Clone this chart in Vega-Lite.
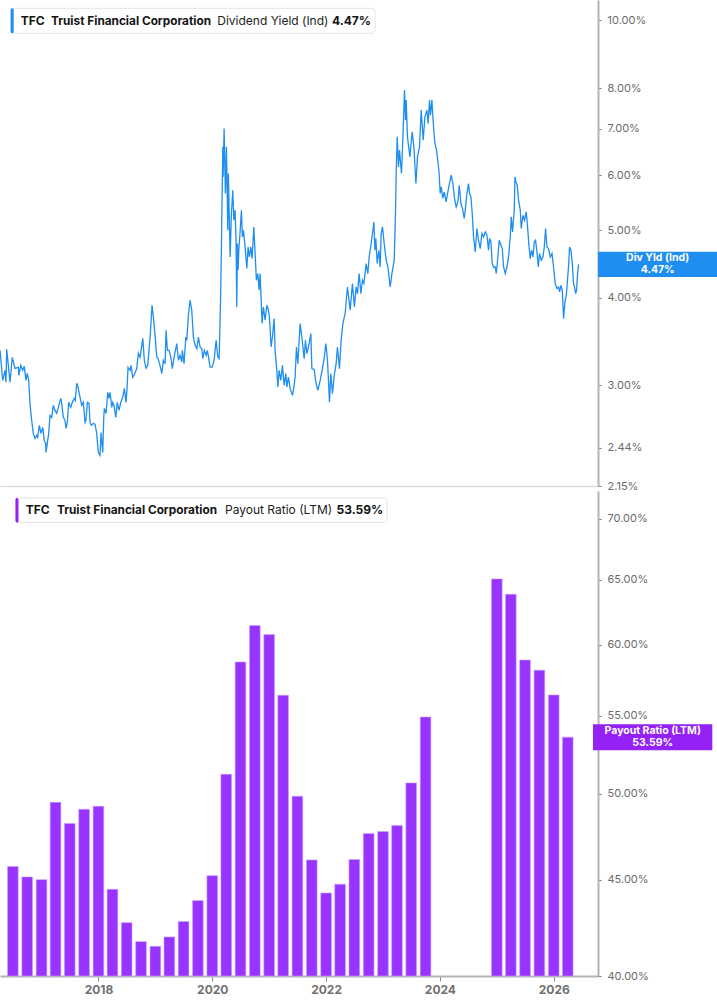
{
  "$schema": "https://vega.github.io/schema/vega-lite/v6.json",
  "padding": 0,
  "background": "white",
  "spacing": 0,
  "config": {"view": {"stroke": null}, "font": "Inter"},
  "datasets": {
    "yield": [
      {"year": 2016.358, "yield": 3.365}, {"year": 2016.405, "yield": 3.048}, {"year": 2016.444, "yield": 3.150}, {"year": 2016.461, "yield": 3.028},
      {"year": 2016.474, "yield": 3.376}, {"year": 2016.531, "yield": 3.028}, {"year": 2016.570, "yield": 3.288}, {"year": 2016.617, "yield": 3.171},
      {"year": 2016.674, "yield": 3.181}, {"year": 2016.686, "yield": 3.098}, {"year": 2016.716, "yield": 3.202}, {"year": 2016.750, "yield": 3.150},
      {"year": 2016.778, "yield": 3.192}, {"year": 2016.807, "yield": 3.048}, {"year": 2016.830, "yield": 3.119}, {"year": 2016.854, "yield": 3.048},
      {"year": 2016.876, "yield": 2.824}, {"year": 2016.899, "yield": 2.697}, {"year": 2016.933, "yield": 2.558}, {"year": 2016.963, "yield": 2.516},
      {"year": 2016.992, "yield": 2.541}, {"year": 2017.009, "yield": 2.524}, {"year": 2017.037, "yield": 2.626}, {"year": 2017.066, "yield": 2.558},
      {"year": 2017.096, "yield": 2.609}, {"year": 2017.123, "yield": 2.499}, {"year": 2017.148, "yield": 2.475}, {"year": 2017.153, "yield": 2.402},
      {"year": 2017.182, "yield": 2.499}, {"year": 2017.200, "yield": 2.558}, {"year": 2017.222, "yield": 2.715}, {"year": 2017.252, "yield": 2.697},
      {"year": 2017.279, "yield": 2.806}, {"year": 2017.308, "yield": 2.760}, {"year": 2017.338, "yield": 2.733}, {"year": 2017.366, "yield": 2.787},
      {"year": 2017.407, "yield": 2.871}, {"year": 2017.424, "yield": 2.824}, {"year": 2017.452, "yield": 2.697}, {"year": 2017.481, "yield": 2.670},
      {"year": 2017.499, "yield": 2.600}, {"year": 2017.521, "yield": 2.652}, {"year": 2017.545, "yield": 2.834}, {"year": 2017.580, "yield": 2.787},
      {"year": 2017.607, "yield": 2.834}, {"year": 2017.642, "yield": 2.871}, {"year": 2017.659, "yield": 2.852}, {"year": 2017.684, "yield": 3.018},
      {"year": 2017.711, "yield": 2.968}, {"year": 2017.741, "yield": 2.881}, {"year": 2017.770, "yield": 2.806}, {"year": 2017.798, "yield": 2.834},
      {"year": 2017.810, "yield": 2.760}, {"year": 2017.827, "yield": 2.652}, {"year": 2017.844, "yield": 2.670}, {"year": 2017.867, "yield": 2.834},
      {"year": 2017.896, "yield": 2.824}, {"year": 2017.914, "yield": 2.652}, {"year": 2017.936, "yield": 2.626}, {"year": 2017.971, "yield": 2.644},
      {"year": 2018.000, "yield": 2.635}, {"year": 2018.029, "yield": 2.558}, {"year": 2018.057, "yield": 2.402}, {"year": 2018.086, "yield": 2.379},
      {"year": 2018.104, "yield": 2.566}, {"year": 2018.133, "yield": 2.402}, {"year": 2018.150, "yield": 2.688}, {"year": 2018.161, "yield": 2.778},
      {"year": 2018.190, "yield": 2.733}, {"year": 2018.220, "yield": 2.929}, {"year": 2018.242, "yield": 2.871}, {"year": 2018.259, "yield": 2.929},
      {"year": 2018.289, "yield": 2.787}, {"year": 2018.306, "yield": 2.834}, {"year": 2018.328, "yield": 2.806}, {"year": 2018.358, "yield": 2.697},
      {"year": 2018.385, "yield": 2.834}, {"year": 2018.415, "yield": 2.760}, {"year": 2018.444, "yield": 2.834}, {"year": 2018.479, "yield": 2.881},
      {"year": 2018.506, "yield": 2.968}, {"year": 2018.536, "yield": 2.834}, {"year": 2018.553, "yield": 2.968}, {"year": 2018.570, "yield": 3.181},
      {"year": 2018.605, "yield": 3.150}, {"year": 2018.622, "yield": 3.202}, {"year": 2018.652, "yield": 3.078}, {"year": 2018.691, "yield": 3.119},
      {"year": 2018.721, "yield": 3.171}, {"year": 2018.748, "yield": 3.332}, {"year": 2018.778, "yield": 3.288}, {"year": 2018.825, "yield": 3.501},
      {"year": 2018.852, "yield": 3.256}, {"year": 2018.882, "yield": 3.171}, {"year": 2018.911, "yield": 3.202}, {"year": 2018.951, "yield": 3.513},
      {"year": 2018.985, "yield": 3.905}, {"year": 2019.008, "yield": 3.753}, {"year": 2019.037, "yield": 3.536}, {"year": 2019.067, "yield": 3.288},
      {"year": 2019.089, "yield": 3.277}, {"year": 2019.136, "yield": 3.168}, {"year": 2019.153, "yield": 3.116}, {"year": 2019.181, "yield": 3.256},
      {"year": 2019.210, "yield": 3.220}, {"year": 2019.227, "yield": 3.595}, {"year": 2019.250, "yield": 3.365}, {"year": 2019.279, "yield": 3.365},
      {"year": 2019.309, "yield": 3.291}, {"year": 2019.336, "yield": 3.168}, {"year": 2019.366, "yield": 3.291}, {"year": 2019.395, "yield": 3.384},
      {"year": 2019.412, "yield": 3.440}, {"year": 2019.440, "yield": 3.256}, {"year": 2019.469, "yield": 3.310}, {"year": 2019.498, "yield": 3.238},
      {"year": 2019.509, "yield": 3.365}, {"year": 2019.538, "yield": 3.220}, {"year": 2019.568, "yield": 3.516}, {"year": 2019.585, "yield": 3.478},
      {"year": 2019.613, "yield": 3.778}, {"year": 2019.642, "yield": 3.970}, {"year": 2019.671, "yield": 3.841}, {"year": 2019.699, "yield": 3.516},
      {"year": 2019.729, "yield": 3.421}, {"year": 2019.758, "yield": 3.384}, {"year": 2019.786, "yield": 3.516}, {"year": 2019.815, "yield": 3.402},
      {"year": 2019.844, "yield": 3.384}, {"year": 2019.862, "yield": 3.274}, {"year": 2019.889, "yield": 3.365}, {"year": 2019.919, "yield": 3.310},
      {"year": 2019.941, "yield": 3.365}, {"year": 2019.965, "yield": 3.274}, {"year": 2019.988, "yield": 3.184}, {"year": 2020.023, "yield": 3.184},
      {"year": 2020.057, "yield": 3.256}, {"year": 2020.092, "yield": 3.478}, {"year": 2020.121, "yield": 3.291}, {"year": 2020.144, "yield": 3.274},
      {"year": 2020.166, "yield": 3.883}, {"year": 2020.183, "yield": 4.683}, {"year": 2020.190, "yield": 5.228}, {"year": 2020.208, "yield": 6.588},
      {"year": 2020.213, "yield": 5.966}, {"year": 2020.230, "yield": 7.001}, {"year": 2020.252, "yield": 5.648}, {"year": 2020.270, "yield": 6.588},
      {"year": 2020.294, "yield": 5.003}, {"year": 2020.304, "yield": 6.034}, {"year": 2020.334, "yield": 4.580}, {"year": 2020.356, "yield": 5.287},
      {"year": 2020.380, "yield": 5.710}, {"year": 2020.397, "yield": 5.171}, {"year": 2020.420, "yield": 5.345}, {"year": 2020.437, "yield": 4.788},
      {"year": 2020.449, "yield": 3.883}, {"year": 2020.460, "yield": 4.788}, {"year": 2020.472, "yield": 4.383}, {"year": 2020.484, "yield": 4.683},
      {"year": 2020.506, "yield": 4.975}, {"year": 2020.529, "yield": 5.345}, {"year": 2020.546, "yield": 4.893}, {"year": 2020.564, "yield": 5.003},
      {"year": 2020.593, "yield": 4.734}, {"year": 2020.622, "yield": 4.408}, {"year": 2020.645, "yield": 4.734}, {"year": 2020.667, "yield": 4.580},
      {"year": 2020.692, "yield": 4.734}, {"year": 2020.714, "yield": 4.556}, {"year": 2020.743, "yield": 5.058}, {"year": 2020.766, "yield": 4.632},
      {"year": 2020.788, "yield": 4.241}, {"year": 2020.812, "yield": 4.336}, {"year": 2020.835, "yield": 4.103}, {"year": 2020.852, "yield": 4.336},
      {"year": 2020.869, "yield": 3.992}, {"year": 2020.887, "yield": 3.676}, {"year": 2020.909, "yield": 3.883}, {"year": 2020.939, "yield": 3.716},
      {"year": 2020.968, "yield": 3.905}, {"year": 2020.996, "yield": 3.841}, {"year": 2021.013, "yield": 3.757}, {"year": 2021.042, "yield": 3.402},
      {"year": 2021.065, "yield": 3.516}, {"year": 2021.094, "yield": 3.737}, {"year": 2021.111, "yield": 3.365}, {"year": 2021.141, "yield": 3.150},
      {"year": 2021.158, "yield": 2.981}, {"year": 2021.181, "yield": 3.150}, {"year": 2021.210, "yield": 3.048}, {"year": 2021.238, "yield": 3.202},
      {"year": 2021.267, "yield": 2.998}, {"year": 2021.296, "yield": 3.116}, {"year": 2021.314, "yield": 2.981}, {"year": 2021.341, "yield": 3.081},
      {"year": 2021.371, "yield": 2.965}, {"year": 2021.411, "yield": 2.900}, {"year": 2021.435, "yield": 2.981}, {"year": 2021.457, "yield": 3.081},
      {"year": 2021.480, "yield": 3.402}, {"year": 2021.504, "yield": 3.220}, {"year": 2021.544, "yield": 3.676}, {"year": 2021.573, "yield": 3.516},
      {"year": 2021.613, "yield": 3.274}, {"year": 2021.635, "yield": 3.478}, {"year": 2021.660, "yield": 3.329}, {"year": 2021.687, "yield": 3.402},
      {"year": 2021.729, "yield": 3.556}, {"year": 2021.746, "yield": 3.168}, {"year": 2021.786, "yield": 3.160}, {"year": 2021.815, "yield": 3.030},
      {"year": 2021.850, "yield": 2.948}, {"year": 2021.890, "yield": 3.048}, {"year": 2021.929, "yield": 3.168}, {"year": 2021.958, "yield": 3.274},
      {"year": 2021.988, "yield": 3.440}, {"year": 2022.016, "yield": 3.256}, {"year": 2022.033, "yield": 3.048}, {"year": 2022.050, "yield": 2.836},
      {"year": 2022.074, "yield": 3.116}, {"year": 2022.102, "yield": 2.916}, {"year": 2022.137, "yield": 3.116}, {"year": 2022.166, "yield": 3.220},
      {"year": 2022.188, "yield": 3.402}, {"year": 2022.223, "yield": 3.168}, {"year": 2022.252, "yield": 3.478}, {"year": 2022.282, "yield": 3.676},
      {"year": 2022.321, "yield": 3.799}, {"year": 2022.361, "yield": 4.148}, {"year": 2022.408, "yield": 3.841}, {"year": 2022.447, "yield": 4.195},
      {"year": 2022.482, "yield": 3.883}, {"year": 2022.511, "yield": 4.148}, {"year": 2022.534, "yield": 4.058}, {"year": 2022.563, "yield": 4.336},
      {"year": 2022.593, "yield": 4.058}, {"year": 2022.620, "yield": 4.241}, {"year": 2022.645, "yield": 4.195}, {"year": 2022.672, "yield": 4.383},
      {"year": 2022.684, "yield": 4.482}, {"year": 2022.714, "yield": 4.336}, {"year": 2022.736, "yield": 4.580}, {"year": 2022.771, "yield": 4.788},
      {"year": 2022.793, "yield": 4.949}, {"year": 2022.818, "yield": 5.142}, {"year": 2022.835, "yield": 4.683}, {"year": 2022.852, "yield": 4.867},
      {"year": 2022.875, "yield": 4.482}, {"year": 2022.904, "yield": 4.683}, {"year": 2022.927, "yield": 4.431}, {"year": 2022.944, "yield": 4.949},
      {"year": 2022.966, "yield": 5.058}, {"year": 2022.996, "yield": 4.788}, {"year": 2023.030, "yield": 4.531}, {"year": 2023.060, "yield": 4.431},
      {"year": 2023.099, "yield": 4.148}, {"year": 2023.129, "yield": 4.336}, {"year": 2023.169, "yield": 4.531}, {"year": 2023.191, "yield": 5.287},
      {"year": 2023.203, "yield": 6.034}, {"year": 2023.221, "yield": 6.810}, {"year": 2023.243, "yield": 6.167}, {"year": 2023.260, "yield": 6.517},
      {"year": 2023.295, "yield": 6.034}, {"year": 2023.319, "yield": 6.810}, {"year": 2023.347, "yield": 7.946}, {"year": 2023.364, "yield": 7.196},
      {"year": 2023.376, "yield": 7.688}, {"year": 2023.398, "yield": 6.810}, {"year": 2023.440, "yield": 6.374}, {"year": 2023.480, "yield": 6.923},
      {"year": 2023.509, "yield": 6.588}, {"year": 2023.544, "yield": 5.838}, {"year": 2023.571, "yield": 6.374}, {"year": 2023.606, "yield": 6.588},
      {"year": 2023.635, "yield": 7.438}, {"year": 2023.670, "yield": 6.736}, {"year": 2023.699, "yield": 7.276}, {"year": 2023.734, "yield": 7.438},
      {"year": 2023.756, "yield": 7.118}, {"year": 2023.779, "yield": 7.688}, {"year": 2023.796, "yield": 7.316}, {"year": 2023.820, "yield": 7.688},
      {"year": 2023.848, "yield": 7.039}, {"year": 2023.872, "yield": 6.663}, {"year": 2023.900, "yield": 6.517}, {"year": 2023.941, "yield": 6.100},
      {"year": 2023.964, "yield": 5.648}, {"year": 2023.981, "yield": 5.772}, {"year": 2024.010, "yield": 5.556}, {"year": 2024.033, "yield": 5.678},
      {"year": 2024.067, "yield": 5.493}, {"year": 2024.090, "yield": 5.648}, {"year": 2024.119, "yield": 5.805}, {"year": 2024.154, "yield": 6.000},
      {"year": 2024.183, "yield": 5.838}, {"year": 2024.211, "yield": 5.556}, {"year": 2024.240, "yield": 5.403}, {"year": 2024.270, "yield": 5.493},
      {"year": 2024.292, "yield": 5.805}, {"year": 2024.322, "yield": 5.464}, {"year": 2024.349, "yield": 5.375}, {"year": 2024.379, "yield": 5.200},
      {"year": 2024.396, "yield": 5.345}, {"year": 2024.425, "yield": 5.648}, {"year": 2024.453, "yield": 5.838}, {"year": 2024.470, "yield": 5.648},
      {"year": 2024.494, "yield": 5.585}, {"year": 2024.517, "yield": 5.287}, {"year": 2024.540, "yield": 4.893}, {"year": 2024.569, "yield": 4.657},
      {"year": 2024.598, "yield": 5.031}, {"year": 2024.626, "yield": 4.840}, {"year": 2024.655, "yield": 4.709}, {"year": 2024.685, "yield": 4.949},
      {"year": 2024.712, "yield": 4.893}, {"year": 2024.742, "yield": 4.975}, {"year": 2024.771, "yield": 4.921}, {"year": 2024.799, "yield": 4.683},
      {"year": 2024.816, "yield": 4.867}, {"year": 2024.840, "yield": 4.813}, {"year": 2024.863, "yield": 4.482}, {"year": 2024.885, "yield": 4.431},
      {"year": 2024.915, "yield": 4.431}, {"year": 2024.932, "yield": 4.336}, {"year": 2024.955, "yield": 4.531}, {"year": 2024.984, "yield": 4.840},
      {"year": 2025.013, "yield": 4.761}, {"year": 2025.036, "yield": 4.709}, {"year": 2025.058, "yield": 4.431}, {"year": 2025.088, "yield": 4.336},
      {"year": 2025.117, "yield": 4.431}, {"year": 2025.145, "yield": 4.580}, {"year": 2025.174, "yield": 4.893}, {"year": 2025.191, "yield": 5.228},
      {"year": 2025.214, "yield": 4.975}, {"year": 2025.243, "yield": 5.345}, {"year": 2025.255, "yield": 5.966}, {"year": 2025.272, "yield": 5.869},
      {"year": 2025.295, "yield": 5.805}, {"year": 2025.317, "yield": 5.524}, {"year": 2025.347, "yield": 5.345}, {"year": 2025.364, "yield": 5.031},
      {"year": 2025.393, "yield": 5.257}, {"year": 2025.421, "yield": 5.171}, {"year": 2025.450, "yield": 5.315}, {"year": 2025.473, "yield": 5.058},
      {"year": 2025.497, "yield": 4.761}, {"year": 2025.519, "yield": 4.556}, {"year": 2025.542, "yield": 4.683}, {"year": 2025.566, "yield": 4.580},
      {"year": 2025.589, "yield": 4.813}, {"year": 2025.611, "yield": 4.840}, {"year": 2025.635, "yield": 4.657}, {"year": 2025.658, "yield": 4.431},
      {"year": 2025.680, "yield": 4.632}, {"year": 2025.710, "yield": 4.531}, {"year": 2025.739, "yield": 4.580}, {"year": 2025.762, "yield": 4.734},
      {"year": 2025.784, "yield": 5.031}, {"year": 2025.808, "yield": 4.734}, {"year": 2025.836, "yield": 4.709}, {"year": 2025.865, "yield": 4.580},
      {"year": 2025.895, "yield": 4.632}, {"year": 2025.922, "yield": 4.431}, {"year": 2025.951, "yield": 4.195}, {"year": 2025.981, "yield": 4.126},
      {"year": 2026.009, "yield": 4.148}, {"year": 2026.026, "yield": 4.080}, {"year": 2026.050, "yield": 4.171}, {"year": 2026.073, "yield": 4.103},
      {"year": 2026.095, "yield": 3.737}, {"year": 2026.119, "yield": 3.948}, {"year": 2026.142, "yield": 4.036}, {"year": 2026.159, "yield": 4.195},
      {"year": 2026.182, "yield": 4.456}, {"year": 2026.199, "yield": 4.734}, {"year": 2026.223, "yield": 4.683}, {"year": 2026.246, "yield": 4.482},
      {"year": 2026.268, "yield": 4.195}, {"year": 2026.285, "yield": 4.148}, {"year": 2026.303, "yield": 4.058}, {"year": 2026.320, "yield": 4.103},
      {"year": 2026.337, "yield": 4.336}, {"year": 2026.355, "yield": 4.470}
    ],
    "payout": [
      {"year": 2016.496, "payout": 45.74}, {"year": 2016.748, "payout": 45.16}, {"year": 2017.000, "payout": 45.01}, {"year": 2017.246, "payout": 49.48},
      {"year": 2017.496, "payout": 48.21}, {"year": 2017.748, "payout": 49.06}, {"year": 2018.000, "payout": 49.24}, {"year": 2018.246, "payout": 44.48},
      {"year": 2018.496, "payout": 42.70}, {"year": 2018.748, "payout": 41.72}, {"year": 2019.000, "payout": 41.48}, {"year": 2019.246, "payout": 41.96},
      {"year": 2019.496, "payout": 42.76}, {"year": 2019.748, "payout": 43.87}, {"year": 2020.000, "payout": 45.23}, {"year": 2020.246, "payout": 51.21},
      {"year": 2020.496, "payout": 58.76}, {"year": 2020.748, "payout": 61.44}, {"year": 2021.000, "payout": 60.76}, {"year": 2021.246, "payout": 56.41},
      {"year": 2021.496, "payout": 49.85}, {"year": 2021.748, "payout": 46.11}, {"year": 2022.000, "payout": 44.28}, {"year": 2022.246, "payout": 44.76},
      {"year": 2022.496, "payout": 46.13}, {"year": 2022.748, "payout": 47.62}, {"year": 2023.000, "payout": 47.74}, {"year": 2023.246, "payout": 48.09},
      {"year": 2023.496, "payout": 50.67}, {"year": 2023.748, "payout": 54.93}, {"year": 2025.000, "payout": 65.05}, {"year": 2025.246, "payout": 63.84},
      {"year": 2025.496, "payout": 58.90}, {"year": 2025.748, "payout": 58.17}, {"year": 2026.000, "payout": 56.43}, {"year": 2026.246, "payout": 53.59}
    ]
  },
  "vconcat": [
    {
      "width": 598,
      "height": 486,
      "layer": [
        {
          "data": {"name": "yield"},
          "mark": {"type": "line", "color": "#1f8ef1", "strokeWidth": 1.3, "clip": true},
          "encoding": {
            "x": {"field": "year", "type": "quantitative", "scale": {"domain": [2016.358, 2026.69], "nice": false, "zero": false},
                  "axis": {"title": null, "labels": false, "ticks": false, "grid": false, "domainColor": "#dddddd", "domainWidth": 1.5}},
            "y": {"field": "yield", "type": "quantitative", "scale": {"type": "log", "domain": [2.15, 10.7], "nice": false},
                  "axis": {"orient": "right", "title": null, "grid": false, "values": [2.15, 2.44, 3, 4, 5, 6, 7, 8, 10],
                           "labelExpr": "format(datum.value, '.2f') + '%'", "domainColor": "#b4b4b4", "domainWidth": 2,
                           "tickColor": "#777777", "tickSize": 3, "labelColor": "#6b6b6b", "labelFontSize": 11, "labelPadding": 6}}
          }
        },
        {
          "data": {"values": [{"ticker": "TFC", "company": "Truist Financial Corporation", "metric": "Dividend Yield (Ind)", "latest": "4.47%"}]},
          "layer": [
            {"mark": {"type": "rect", "fill": "white", "stroke": "#e4e4e4", "strokeWidth": 1, "cornerRadius": 3, "xOffset": 10.7, "x2Offset": 375, "yOffset": 8.3, "y2Offset": 33.3},
             "encoding": {"x": {"datum": 2016.358}, "x2": {"datum": 2016.358}, "y": {"datum": 10.7}, "y2": {"datum": 10.7}}},
            {"mark": {"type": "rect", "fill": "#1f8ef1", "cornerRadius": 1.5, "xOffset": 10.7, "x2Offset": 13.7, "yOffset": 8.3, "y2Offset": 33.3},
             "encoding": {"x": {"datum": 2016.358}, "x2": {"datum": 2016.358}, "y": {"datum": 10.7}, "y2": {"datum": 10.7}}},
            {"mark": {"type": "text", "align": "left", "baseline": "middle", "dx": 20.7, "dy": 20.8, "fontSize": 12, "fontWeight": "bold", "color": "#141414"},
             "encoding": {"x": {"datum": 2016.358}, "y": {"datum": 10.7}, "text": {"field": "ticker"}}},
            {"mark": {"type": "text", "align": "left", "baseline": "middle", "dx": 51, "dy": 20.8, "fontSize": 11.8, "fontWeight": "bold", "color": "#141414"},
             "encoding": {"x": {"datum": 2016.358}, "y": {"datum": 10.7}, "text": {"field": "company"}}},
            {"mark": {"type": "text", "align": "left", "baseline": "middle", "dx": 217.3, "dy": 20.8, "fontSize": 12, "color": "#222222"},
             "encoding": {"x": {"datum": 2016.358}, "y": {"datum": 10.7}, "text": {"field": "metric"}}},
            {"mark": {"type": "text", "align": "left", "baseline": "middle", "dx": 332, "dy": 20.8, "fontSize": 12, "fontWeight": "bold", "color": "#141414"},
             "encoding": {"x": {"datum": 2016.358}, "y": {"datum": 10.7}, "text": {"field": "latest"}}}
          ]
        },
        {
          "data": {"values": [{"name": "Div Yld (Ind)", "latest": "4.47%", "value": 4.47}]},
          "layer": [
            {"mark": {"type": "rect", "fill": "#1f8ef1", "x2Offset": 119.3, "yOffset": -12.6, "y2Offset": 12.6},
             "encoding": {"x": {"datum": 2026.69}, "x2": {"datum": 2026.69}, "y": {"field": "value", "type": "quantitative"}, "y2": {"field": "value"}}},
            {"mark": {"type": "text", "align": "center", "baseline": "middle", "dx": 59.7, "dy": -6, "fontSize": 10.5, "fontWeight": "bold", "color": "white"},
             "encoding": {"x": {"datum": 2026.69}, "y": {"field": "value", "type": "quantitative"}, "text": {"field": "name"}}},
            {"mark": {"type": "text", "align": "center", "baseline": "middle", "dx": 59.7, "dy": 6, "fontSize": 10.5, "fontWeight": "bold", "color": "white"},
             "encoding": {"x": {"datum": 2026.69}, "y": {"field": "value", "type": "quantitative"}, "text": {"field": "latest"}}}
          ]
        }
      ]
    },
    {
      "width": 598,
      "height": 485,
      "layer": [
        {
          "data": {"name": "payout"},
          "mark": {"type": "bar", "width": 10.7, "color": "#9933ff", "stroke": "#c9a2ff", "strokeWidth": 0.6},
          "encoding": {
            "x": {"field": "year", "type": "quantitative", "scale": {"domain": [2016.358, 2026.69], "nice": false, "zero": false},
                  "axis": {"title": null, "grid": false, "values": [2018, 2020, 2022, 2024, 2026], "format": "d", "labelFontWeight": "bold",
                           "labelColor": "#707070", "labelFontSize": 12, "tickColor": "#8a8a8a", "tickSize": 5, "domainColor": "#b4b4b4",
                           "domainWidth": 2, "labelPadding": 3}},
            "y": {"field": "payout", "type": "quantitative", "scale": {"type": "log", "domain": [40, 72.44], "nice": false},
                  "axis": {"orient": "right", "title": null, "grid": false, "values": [40, 45, 50, 55, 60, 65, 70],
                           "labelExpr": "format(datum.value, '.2f') + '%'", "domainColor": "#b4b4b4", "domainWidth": 2,
                           "tickColor": "#777777", "tickSize": 3, "labelColor": "#6b6b6b", "labelFontSize": 11, "labelPadding": 6}},
            "y2": {"datum": 40}
          }
        },
        {
          "data": {"values": [{"ticker": "TFC", "company": "Truist Financial Corporation", "metric": "Payout Ratio (LTM)", "latest": "53.59%"}]},
          "layer": [
            {"mark": {"type": "rect", "fill": "white", "stroke": "#e4e4e4", "strokeWidth": 1, "cornerRadius": 3, "xOffset": 10.5, "x2Offset": 382, "yOffset": 7, "y2Offset": 31.5},
             "encoding": {"x": {"datum": 2016.358}, "x2": {"datum": 2016.358}, "y": {"datum": 72.44}, "y2": {"datum": 72.44}}},
            {"mark": {"type": "rect", "fill": "#9421f5", "cornerRadius": 1.5, "xOffset": 10.5, "x2Offset": 13.5, "yOffset": 7, "y2Offset": 31.5},
             "encoding": {"x": {"datum": 2016.358}, "x2": {"datum": 2016.358}, "y": {"datum": 72.44}, "y2": {"datum": 72.44}}},
            {"mark": {"type": "text", "align": "left", "baseline": "middle", "dx": 20.8, "dy": 19.3, "fontSize": 12, "fontWeight": "bold", "color": "#141414"},
             "encoding": {"x": {"datum": 2016.358}, "y": {"datum": 72.44}, "text": {"field": "ticker"}}},
            {"mark": {"type": "text", "align": "left", "baseline": "middle", "dx": 52, "dy": 19.3, "fontSize": 11.8, "fontWeight": "bold", "color": "#141414"},
             "encoding": {"x": {"datum": 2016.358}, "y": {"datum": 72.44}, "text": {"field": "company"}}},
            {"mark": {"type": "text", "align": "left", "baseline": "middle", "dx": 220, "dy": 19.3, "fontSize": 12, "color": "#222222"},
             "encoding": {"x": {"datum": 2016.358}, "y": {"datum": 72.44}, "text": {"field": "metric"}}},
            {"mark": {"type": "text", "align": "left", "baseline": "middle", "dx": 331.5, "dy": 19.3, "fontSize": 12, "fontWeight": "bold", "color": "#141414"},
             "encoding": {"x": {"datum": 2016.358}, "y": {"datum": 72.44}, "text": {"field": "latest"}}}
          ]
        },
        {
          "data": {"values": [{"name": "Payout Ratio (LTM)", "latest": "53.59%", "value": 53.59}]},
          "layer": [
            {"mark": {"type": "rect", "fill": "#9421f5", "x2Offset": 119.3, "yOffset": -13, "y2Offset": 13},
             "encoding": {"x": {"datum": 2026.69}, "x2": {"datum": 2026.69}, "y": {"field": "value", "type": "quantitative"}, "y2": {"field": "value"}}},
            {"mark": {"type": "text", "align": "center", "baseline": "middle", "dx": 59.7, "dy": -6, "fontSize": 10.5, "fontWeight": "bold", "color": "white"},
             "encoding": {"x": {"datum": 2026.69}, "y": {"field": "value", "type": "quantitative"}, "text": {"field": "name"}}},
            {"mark": {"type": "text", "align": "center", "baseline": "middle", "dx": 59.7, "dy": 6, "fontSize": 10.5, "fontWeight": "bold", "color": "white"},
             "encoding": {"x": {"datum": 2026.69}, "y": {"field": "value", "type": "quantitative"}, "text": {"field": "latest"}}}
          ]
        }
      ]
    }
  ]
}
